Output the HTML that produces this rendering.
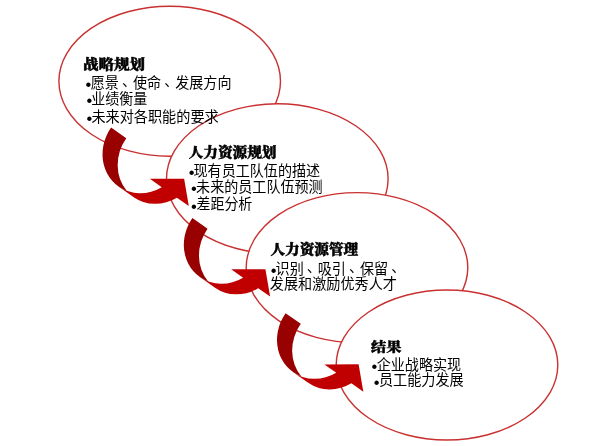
<!DOCTYPE html>
<html lang="zh-CN">
<head>
<meta charset="utf-8">
<title>战略规划与人力资源规划</title>
<style>
html,body{margin:0;padding:0;background:#fff;}
body{width:600px;height:446px;overflow:hidden;}
svg{display:block;will-change:transform;}
.e{fill:#fff;stroke:#c93030;stroke-width:1.4;}
.t{font-family:"Liberation Serif","Noto Serif CJK SC",serif;font-weight:900;fill:#000;stroke:#000;stroke-width:0.5px;stroke-linejoin:round;}
.b{font-family:"Liberation Sans","Noto Sans CJK SC",sans-serif;font-weight:400;fill:#000;}
.k{font-family:"Liberation Sans","Noto Sans CJK SC",sans-serif;fill:#000;}
.ab{fill:#c00000;}
.ad{fill:#990000;}
</style>
</head>
<body>
<svg width="600" height="446" viewBox="0 0 600 446">
<rect width="600" height="446" fill="#fff"/>
<ellipse class="e" cx="169.7" cy="81.2" rx="110.8" ry="75.0"/>
<ellipse class="e" cx="277.3" cy="178.8" rx="110.8" ry="75.0"/>
<ellipse class="e" cx="357.0" cy="267.6" rx="110.8" ry="75.0"/>
<ellipse class="e" cx="447.0" cy="365.0" rx="110.8" ry="75.0"/>
<text class="t" transform="translate(83.00 69.15) scale(1 0.8888)" font-size="15.471">战略规划</text>
<text class="k" transform="translate(85.62 89.70) scale(1 1)" font-size="16.5">•</text>
<text class="b" transform="translate(90.80 87.50) scale(1 1.0718)" font-size="14.072">愿景<tspan dx="3.1" dy="-1.4">、</tspan><tspan dx="-3.1" dy="1.4">使命</tspan><tspan dx="3.1" dy="-1.4">、</tspan><tspan dx="-3.1" dy="1.4">发展方向</tspan></text>
<text class="k" transform="translate(86.47 106.35) scale(1 1)" font-size="16.5">•</text>
<text class="b" transform="translate(91.20 103.95) scale(1 1.0395)" font-size="14.048">业绩衡量</text>
<text class="k" transform="translate(86.47 123.70) scale(1 1)" font-size="16.5">•</text>
<text class="b" transform="translate(91.45 121.50) scale(1 1.0663)" font-size="14.14">未来对各职能的要求</text>
<text class="t" transform="translate(188.75 157.15) scale(1 0.933)" font-size="14.641">人力资源规划</text>
<text class="k" transform="translate(188.70 177.70) scale(1 1)" font-size="16.5">•</text>
<text class="b" transform="translate(193.55 175.50) scale(1 1.0488)" font-size="14.076">现有员工队伍的描述</text>
<text class="k" transform="translate(191.05 194.05) scale(1 1)" font-size="16.5">•</text>
<text class="b" transform="translate(196.10 191.85) scale(1 1.0717)" font-size="14.076">未来的员工队伍预测</text>
<text class="k" transform="translate(191.05 211.50) scale(1 1)" font-size="16.5">•</text>
<text class="b" transform="translate(196.45 208.95) scale(1 1.0976)" font-size="13.984">差距分析</text>
<text class="t" transform="translate(270.45 254.35) scale(1 0.9438)" font-size="14.641">人力资源管理</text>
<text class="k" transform="translate(270.70 276.05) scale(1 1)" font-size="16.5">•</text>
<text class="b" transform="translate(275.55 273.85) scale(1 1.07)" font-size="14.08">识别<tspan dx="3.1" dy="-1.4">、</tspan><tspan dx="-3.1" dy="1.4">吸引</tspan><tspan dx="3.1" dy="-1.4">、</tspan><tspan dx="-3.1" dy="1.4">保留</tspan><tspan dx="3.1" dy="-1.4">、</tspan></text>
<text class="b" transform="translate(269.80 288.85) scale(1 1.0286)" font-size="14.132">发展和激励优秀人才</text>
<text class="t" transform="translate(371.00 350.65) scale(1 0.8541)" font-size="15.295">结果</text>
<text class="k" transform="translate(371.48 372.05) scale(1 1)" font-size="16.5">•</text>
<text class="b" transform="translate(376.75 369.85) scale(1 1.0721)" font-size="14.065">企业战略实现</text>
<text class="k" transform="translate(373.70 388.00) scale(1 1)" font-size="16.5">•</text>
<text class="b" transform="translate(378.95 385.30) scale(1 1.0377)" font-size="14.128">员工能力发展</text>
<path class="ab" d="M118.58 186.55 A44.00 39.95 -55.00 0 0 161.77 187.14 L149.88 178.82 L184.12 178.73 L188.81 206.08 L176.92 197.75 A44.00 39.95 -55.00 0 1 133.74 197.17 Z"/>
<path class="ad" d="M126.25 138.21 A44.00 39.95 -55.00 0 0 126.85 190.88 A44.00 39.95 -55.00 0 1 111.10 127.60 Z"/>
<path class="ab" d="M199.88 277.05 A44.00 39.95 -55.00 0 0 243.07 277.64 L231.18 269.32 L265.42 269.23 L270.11 296.58 L258.22 288.25 A44.00 39.95 -55.00 0 1 215.04 287.67 Z"/>
<path class="ad" d="M207.55 228.71 A44.00 39.95 -55.00 0 0 208.15 281.38 A44.00 39.95 -55.00 0 1 192.40 218.10 Z"/>
<path class="ab" d="M293.08 372.15 A44.00 39.95 -55.00 0 0 336.27 372.74 L324.38 364.42 L358.62 364.33 L363.31 391.68 L351.42 383.35 A44.00 39.95 -55.00 0 1 308.24 382.77 Z"/>
<path class="ad" d="M300.75 323.81 A44.00 39.95 -55.00 0 0 301.35 376.48 A44.00 39.95 -55.00 0 1 285.60 313.20 Z"/>
</svg>
</body>
</html>
